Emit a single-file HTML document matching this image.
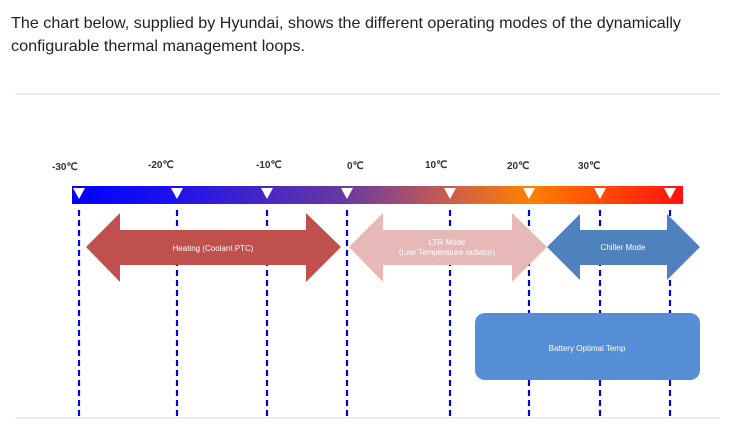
<!DOCTYPE html>
<html><head><meta charset="utf-8"><style>
html,body{margin:0;padding:0;background:#fff;width:737px;height:439px;overflow:hidden}
svg{display:block}
</style></head><body>
<svg width="737" height="439" viewBox="0 0 737 439" xmlns="http://www.w3.org/2000/svg">
<defs>
<linearGradient id="g" x1="72" x2="683" y1="0" y2="0" gradientUnits="userSpaceOnUse">
<stop offset="0" stop-color="#0000ff"/>
<stop offset="0.15" stop-color="#1a10f0"/>
<stop offset="0.45" stop-color="#6a3aa0"/>
<stop offset="0.6" stop-color="#c25a55"/>
<stop offset="0.75" stop-color="#ff8000"/>
<stop offset="1" stop-color="#ff1010"/>
</linearGradient>
</defs>
<g font-family="Liberation Sans, Arial, sans-serif" font-size="16" fill="#222">
<text x="11" y="28" textLength="670" lengthAdjust="spacingAndGlyphs">The chart below, supplied by Hyundai, shows the different operating modes of the dynamically</text>
<text x="11" y="51" textLength="294" lengthAdjust="spacingAndGlyphs">configurable thermal management loops.</text>
</g>
<rect x="15" y="93" width="705" height="2" fill="#eeeeee"/>
<rect x="15" y="417" width="705" height="2" fill="#eeeeee"/>
<g font-family="Liberation Sans, Arial, sans-serif" font-size="10" font-weight="bold" fill="#333">
<text x="52" y="170">-30℃</text>
<text x="148" y="168">-20℃</text>
<text x="256" y="168">-10℃</text>
<text x="347" y="169">0℃</text>
<text x="425" y="168">10℃</text>
<text x="507" y="169">20℃</text>
<text x="578" y="169">30℃</text>
</g>
<rect x="72" y="186" width="611" height="18" fill="url(#g)"/>
<g fill="#fff">
<polygon points="73,188 85,188 79,199"/>
<polygon points="171,188 183,188 177,199"/>
<polygon points="261,188 273,188 267,199"/>
<polygon points="341,188 353,188 347,199"/>
<polygon points="444,188 456,188 450,199"/>
<polygon points="523,188 535,188 529,199"/>
<polygon points="594,188 606,188 600,199"/>
<polygon points="664,188 676,188 670,199"/>
</g>
<g stroke="#0000e6" stroke-width="2.2" stroke-dasharray="6,4">
<line x1="79" y1="210" x2="79" y2="416"/>
<line x1="177" y1="210" x2="177" y2="416"/>
<line x1="267" y1="210" x2="267" y2="416"/>
<line x1="347" y1="210" x2="347" y2="416"/>
<line x1="450" y1="210" x2="450" y2="416"/>
<line x1="529" y1="210" x2="529" y2="416"/>
<line x1="600" y1="210" x2="600" y2="416"/>
<line x1="670" y1="210" x2="670" y2="416"/>
</g>
<polygon fill="#c0504d" points="86,247 120,213 120,230 306,230 306,213 341,247 306,282 306,265 120,265 120,282"/>
<polygon fill="#e6b9b8" points="349,247 383,213 383,230 512,230 512,213 547,247 512,282 512,265 383,265 383,282"/>
<polygon fill="#4f81bd" points="547,247 580,214 580,230 667,230 667,214 700,247 667,280 667,265 580,265 580,280"/>
<rect x="475" y="313" width="225" height="67" rx="10" fill="#558ed5"/>
<g font-family="Liberation Sans, Arial, sans-serif" font-size="8" fill="#fff" text-anchor="middle">
<text x="213" y="251">Heating (Coolant PTC)</text>
<text x="447" y="245">LTR Mode</text>
<text x="447" y="255">(Low Temperature  radiator)</text>
<text x="623" y="250">Chiller Mode</text>
<text x="587" y="351">Battery Optimal Temp</text>
</g>
</svg>
</body></html>
